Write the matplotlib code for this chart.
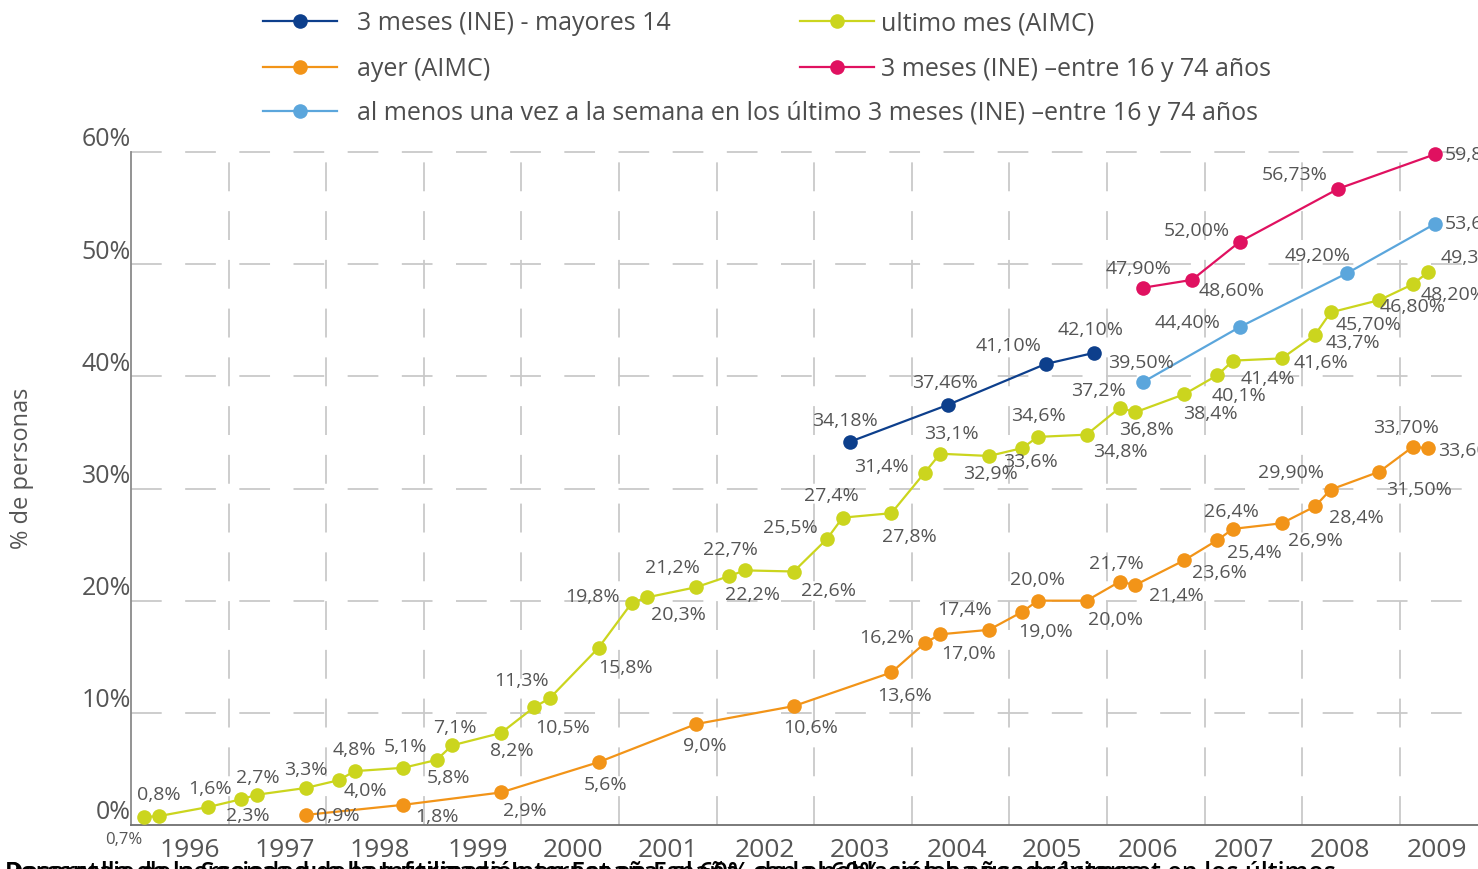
import matplotlib
matplotlib.use("Agg")
import matplotlib.pyplot as plt
from matplotlib.transforms import ScaledTranslation

plt.rcParams['font.family'] = ['Open Sans', 'DejaVu Sans']

# ---------------- data ----------------
years = [1996, 1997, 1998, 1999, 2000, 2001, 2002, 2003, 2004, 2005, 2006, 2007, 2008, 2009]
year_labels = [str(y) for y in years]

# ultimo mes (AIMC) - survey waves (fractional year)
mes_x = [1996.13, 1996.29, 1996.79, 1997.13, 1997.29, 1997.79, 1998.13, 1998.29, 1998.79,
         1999.13, 1999.29, 1999.79, 2000.13, 2000.29, 2000.79, 2001.13, 2001.29, 2001.79,
         2002.13, 2002.29, 2002.79, 2003.13, 2003.29, 2003.79, 2004.13, 2004.29, 2004.79,
         2005.13, 2005.29, 2005.79, 2006.13, 2006.29, 2006.79, 2007.13, 2007.29, 2007.79,
         2008.13, 2008.29, 2008.79, 2009.13, 2009.29]
mes_y = [0.7, 0.8, 1.6, 2.3, 2.7, 3.3, 4.0, 4.8, 5.1, 5.8, 7.1, 8.2, 10.5, 11.3, 15.8,
         19.8, 20.3, 21.2, 22.2, 22.7, 22.6, 25.5, 27.4, 27.8, 31.4, 33.1, 32.9,
         33.6, 34.6, 34.8, 37.2, 36.8, 38.4, 40.1, 41.4, 41.6, 43.7, 45.7, 46.8, 48.2, 49.3]
mes_lab = ["0,7%", "0,8%", "1,6%", "2,3%", "2,7%", "3,3%", "4,0%", "4,8%", "5,1%", "5,8%",
           "7,1%", "8,2%", "10,5%", "11,3%", "15,8%", "19,8%", "20,3%", "21,2%", "22,2%",
           "22,7%", "22,6%", "25,5%", "27,4%", "27,8%", "31,4%", "33,1%", "32,9%", "33,6%",
           "34,6%", "34,8%", "37,2%", "36,8%", "38,4%", "40,1%", "41,4%", "41,6%", "43,7%",
           "45,70%", "46,80%", "48,20%", "49,30%"]

# ayer (AIMC)
ayer_x = [1997.79, 1998.79, 1999.79, 2000.79, 2001.79, 2002.79, 2003.79, 2004.13, 2004.29,
          2004.79, 2005.13, 2005.29, 2005.79, 2006.13, 2006.29, 2006.79, 2007.13, 2007.29,
          2007.79, 2008.13, 2008.29, 2008.79, 2009.13, 2009.29]
ayer_y = [0.9, 1.8, 2.9, 5.6, 9.0, 10.6, 13.6, 16.2, 17.0, 17.4, 19.0, 20.0, 20.0, 21.7,
          21.4, 23.6, 25.4, 26.4, 26.9, 28.4, 29.9, 31.5, 33.7, 33.6]
ayer_lab = ["0,9%", "1,8%", "2,9%", "5,6%", "9,0%", "10,6%", "13,6%", "16,2%", "17,0%",
            "17,4%", "19,0%", "20,0%", "20,0%", "21,7%", "21,4%", "23,6%", "25,4%", "26,4%",
            "26,9%", "28,4%", "29,90%", "31,50%", "33,70%", "33,60%"]

# 3 meses (INE) - mayores 14
ine14_x = [2003.37, 2004.37, 2005.37, 2005.87]
ine14_y = [34.18, 37.46, 41.10, 42.10]
ine14_lab = ["34,18%", "37,46%", "41,10%", "42,10%"]

# 3 meses (INE) - entre 16 y 74 anos
ine16_x = [2006.37, 2006.87, 2007.36, 2008.37, 2009.36]
ine16_y = [47.90, 48.60, 52.00, 56.73, 59.80]
ine16_lab = ["47,90%", "48,60%", "52,00%", "56,73%", "59,80%"]

# al menos una vez a la semana (INE)
sem_x = [2006.37, 2007.36, 2008.46, 2009.36]
sem_y = [39.50, 44.40, 49.20, 53.60]
sem_lab = ["39,50%", "44,40%", "49,20%", "53,60%"]

y_ticks = [0, 10, 20, 30, 40, 50, 60]
y_tick_labels = ["0%", "10%", "20%", "30%", "40%", "50%", "60%"]

caption_1 = "Desarrollo de la Sociedad de la Información en España: el 60% de la población ha usado Internet en los últimos"
caption_2 = "Porcentaje de personas que han utilizado Internet en España, con el 60% en los años próximos"

# ---------------- layout (positions/styles only) ----------------
year_tick_pos = [1996.60, 1997.58, 1998.55, 1999.55, 2000.53, 2001.50, 2002.50,
                 2003.47, 2004.46, 2005.44, 2006.42, 2007.40, 2008.39, 2009.38]

mes_off = [(-20, -22), (0, 22), (2, 19), (7, -16), (1, 18), (0, 19), (27, -10), (0, 22),
           (2, 22), (12, -17), (3, 18), (11, -17), (28, -20), (-28, 18), (27, -19),
           (-39, 7), (31, -17), (-24, 20), (23, -18), (-15, 21), (35, -18), (-37, 12),
           (-11, 23), (18, -23), (-43, 7), (11, 21), (1, -17), (8, -13), (1, 22),
           (34, -16), (-21, 18), (11, -17), (26, -19), (22, -20), (35, -17), (39, -4),
           (38, -7), (38, -12), (33, -6), ('L', 8, -10), ('L', 12, 15)]
ayer_off = [(32, 0), (34, -11), (24, -18), (7, -22), (9, -21), (17, -21), (13, -23),
            (-38, 6), (28, -19), (-24, 21), (23, -19), (0, 22), (29, -18), (-3, 19),
            (41, -10), (35, -12), (37, -12), (-2, 18), (34, -17), (41, -11), (-40, 18),
            (40, -17), (-7, 20), ('L', 10, -2)]
ine14_off = [(-5, 22), (-3, 23), (-37, 19), (-4, 24)]
ine16_off = [(-5, 20), (40, -10), (-43, 12), (-44, 15), ('L', 10, 0)]
sem_off = [(-2, 20), (-52, 5), (-30, 18), ('L', 10, 1)]

# ---------------- figure ----------------
W, H = 1478, 870
fig = plt.figure(figsize=(W / 100, H / 100), dpi=100)
fig.patch.set_facecolor('white')
ax = fig.add_axes([131 / W, (H - 826) / H, 1 - 131 / W, (826 - 153) / H])
ax.set_xlim(1996.0, 2009.80)
ax.set_ylim(0, 60)

grid_col = '#c9c9c9'
txt_col = '#555555'

# grid
for v in y_ticks[1:]:
    ax.axhline(v, color=grid_col, lw=1.3, dashes=(17, 13), zorder=0, clip_on=False)
for yv in years[1:]:
    ax.axvline(yv, color=grid_col, lw=1.3, dashes=(16, 11), zorder=0)

for s in ['top', 'right']:
    ax.spines[s].set_visible(False)
ax.spines['left'].set_color('#8a8a8a')
ax.spines['bottom'].set_color('#707070')
ax.spines['left'].set_linewidth(1.3)
ax.spines['bottom'].set_linewidth(1.3)

# ticks
ax.set_yticks(y_ticks)
ax.set_yticklabels(y_tick_labels, fontsize=18, color=txt_col)
ax.tick_params(axis='y', length=0, pad=0)
for lab in ax.get_yticklabels():
    lab.set_transform(lab.get_transform() + ScaledTranslation(0.0, 0.16, fig.dpi_scale_trans))

ax.set_xticks(year_tick_pos)
ax.set_xticklabels(year_labels, fontsize=19, color=txt_col)
ax.tick_params(axis='x', length=0, pad=9.0)

fig.text(22 / W, 1 - 468 / H, "% de personas", rotation=90, fontsize=17, color=txt_col,
         ha='center', va='center')

series = [
    ("3 meses (INE) - mayores 14", ine14_x, ine14_y, ine14_lab, ine14_off, '#0d3f8c'),
    ("ayer (AIMC)", ayer_x, ayer_y, ayer_lab, ayer_off, '#f29418'),
    ("al menos una vez a la semana en los último 3 meses (INE) \u2013entre 16 y 74 años",
     sem_x, sem_y, sem_lab, sem_off, '#5ba6dc'),
    ("ultimo mes (AIMC)", mes_x, mes_y, mes_lab, mes_off, '#cbd51e'),
    ("3 meses (INE) \u2013entre 16 y 74 años", ine16_x, ine16_y, ine16_lab, ine16_off, '#e01160'),
]

handles = {}
for name, xs, ys, labs, offs, col in series:
    ln, = ax.plot(xs, ys, color=col, lw=1.6, marker='o', markersize=10.5,
                  markeredgewidth=0, clip_on=False, zorder=3)
    handles[name] = ln
    for x, y, lab, off in zip(xs, ys, labs, offs):
        if off[0] == 'L':
            ax.annotate(lab, (x, y), xytext=(off[1], off[2]), textcoords='offset pixels',
                        ha='left', va='center', fontsize=14, color=txt_col, zorder=4,
                        annotation_clip=False)
        else:
            fs = 12 if lab == "0,7%" else 14
            ax.annotate(lab, (x, y), xytext=off, textcoords='offset pixels',
                        ha='center', va='center', fontsize=fs, color=txt_col, zorder=4,
                        annotation_clip=False)

# legend (one entry per legend, placed like the original)
leg_pos = [
    ("3 meses (INE) - mayores 14", 263, 24, 0.8),
    ("ayer (AIMC)", 263, 70, 0.8),
    ("al menos una vez a la semana en los último 3 meses (INE) \u2013entre 16 y 74 años", 263, 114, 0.8),
    ("ultimo mes (AIMC)", 800, 24, 0.3),
    ("3 meses (INE) \u2013entre 16 y 74 años", 800, 70, 0.3),
]
for name, px, py, tp in leg_pos:
    fig.legend([handles[name]], [name], loc='center left',
               bbox_to_anchor=(px / W, 1 - py / H), frameon=False, fontsize=18,
               handlelength=2.95, handletextpad=tp, borderpad=0, borderaxespad=0,
               labelcolor='#4d4d4d', numpoints=1)

# overlapping caption text at the very bottom (cut off, as in the original)
for cap in (caption_1, caption_2):
    fig.text(5 / W, 1 - 880 / H, cap, fontsize=18, fontweight='semibold', color='black',
             ha='left', va='baseline')

fig.savefig("out.png", dpi=100, facecolor='white')
